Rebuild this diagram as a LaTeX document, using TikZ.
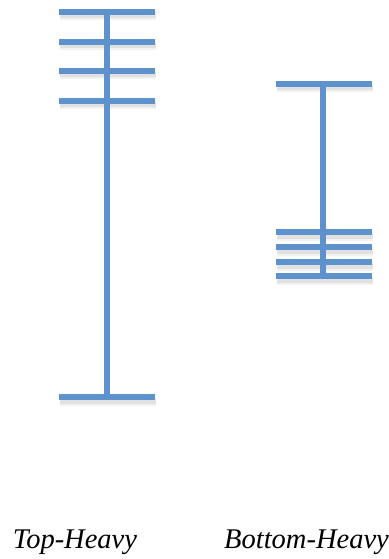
\documentclass[tikz,border=0pt]{standalone}
\usepackage{fontspec}
\setmainfont{Liberation Serif}
\definecolor{barblue}{RGB}{94,146,204}
\tikzset{
  bar/.style={draw=barblue, line width=5.5pt},
  shadeA/.style={draw=black, opacity=0.05, line width=9pt},
  shadeB/.style={draw=black, opacity=0.07, line width=5pt},
  lbl/.style={font=\fontsize{28.5}{31}\selectfont\itshape, anchor=base, inner sep=0pt}
}
\begin{document}
\begin{tikzpicture}[x=1pt,y=-1pt]
\useasboundingbox (0,0) rectangle (388,559);
% shadows
\foreach \y in {12,42,71,101,397} {\draw[shadeA] (60,\y+4) -- (156,\y+4); \draw[shadeB] (60,\y+4) -- (156,\y+4);}
\foreach \y in {84,232,247,262,276} {\draw[shadeA] (277,\y+4) -- (373,\y+4); \draw[shadeB] (277,\y+4) -- (373,\y+4);}
% top-heavy
\draw[bar] (107,12) -- (107,397);
\foreach \y in {12,42,71,101,397} \draw[bar] (59,\y) -- (155,\y);
% bottom-heavy
\draw[bar] (323,84) -- (323,275);
\foreach \y in {84,232,247,262,276} \draw[bar] (276,\y) -- (372,\y);
\node[lbl] (top) at (75,548) {Top-Heavy};
\node[lbl] (bottom) at (306.5,548) {Bottom-Heavy};
\end{tikzpicture}
\end{document}
